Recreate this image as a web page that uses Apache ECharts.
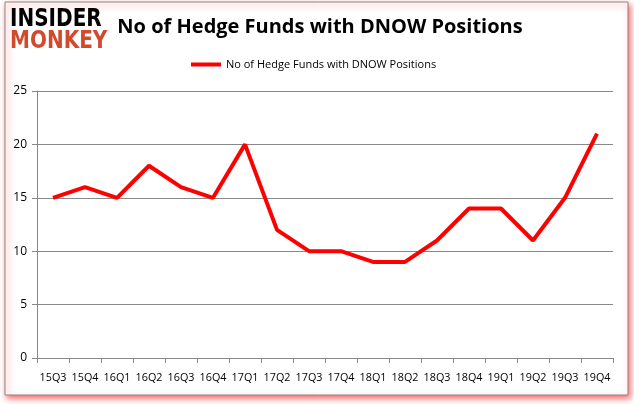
<!DOCTYPE html>
<html><head><meta charset="utf-8">
<script src="https://cdn.jsdelivr.net/npm/echarts@6/dist/echarts.min.js"></script>
<style>html,body{margin:0;padding:0;background:#fff}#c{width:634px;height:404px}</style>
</head><body><div id="c"></div>
<script>
const categories = ['15Q3','15Q4','16Q1','16Q2','16Q3','16Q4','17Q1','17Q2','17Q3','17Q4','18Q1','18Q2','18Q3','18Q4','19Q1','19Q2','19Q3','19Q4'];
const values = [15,16,15,18,16,15,20,12,10,10,9,9,11,14,14,11,15,21];
const yTicks = [0,5,10,15,20,25];
const seriesName = 'No of Hedge Funds with DNOW Positions';

const chart = echarts.init(document.getElementById('c'), null, {renderer:'canvas'});
chart.setOption({
  animation:false,
  backgroundColor:'#fff',
  title:{text:'No of Hedge Funds with DNOW Positions', left:315, textAlign:'center', top:12,
    textStyle:{fontFamily:'Open Sans', fontWeight:'bold', fontSize:20, color:'#000'}},
  legend:{data:[seriesName], top:54, left:186, itemWidth:30, itemHeight:4, itemGap:6,
    icon:'rect', textStyle:{fontFamily:'Open Sans', fontSize:11, color:'#000'}},
  grid:{left:37, right:21, top:91, bottom:46, containLabel:false},
  xAxis:{type:'category', data:categories, boundaryGap:true,
    axisLine:{lineStyle:{color:'#888'}}, axisTick:{show:true, length:5, lineStyle:{color:'#888'}},
    axisLabel:{interval:0, hideOverlap:false, color:'#000', fontFamily:'Open Sans', fontSize:10.8, margin:14}},
  yAxis:{type:'value', min:yTicks[0], max:yTicks[yTicks.length-1], interval:5,
    axisLine:{show:true, lineStyle:{color:'#888'}}, axisTick:{show:true, length:5, lineStyle:{color:'#888'}},
    splitLine:{lineStyle:{color:'#888'}},
    axisLabel:{color:'#000', fontFamily:'Open Sans', fontSize:12, margin:10}},
  series:[{name:seriesName, type:'line', data:values, symbol:'none',
    lineStyle:{color:'#ff0000', width:4}, itemStyle:{color:'#ff0000'}}],
  graphic:[
    {type:'rect', shape:{x:5, y:2, width:623, height:393}, z:-10,
      style:{fill:'#fff', stroke:'#888', lineWidth:1, shadowColor:'rgba(255,0,0,0.6)', shadowBlur:6, shadowOffsetX:2, shadowOffsetY:3}},
    {type:'text', x:10, y:7, scaleX:0.8, style:{text:'INSIDER', fontFamily:'DejaVu Sans', fontWeight:'bold', fontSize:25, fill:'#000', verticalAlign:'top'}},
    {type:'text', x:10, y:29, scaleX:0.8, style:{text:'MONKEY', fontFamily:'DejaVu Sans', fontWeight:'bold', fontSize:25, fill:'#d24a2e', verticalAlign:'top'}}
  ]
});
</script></body></html>
